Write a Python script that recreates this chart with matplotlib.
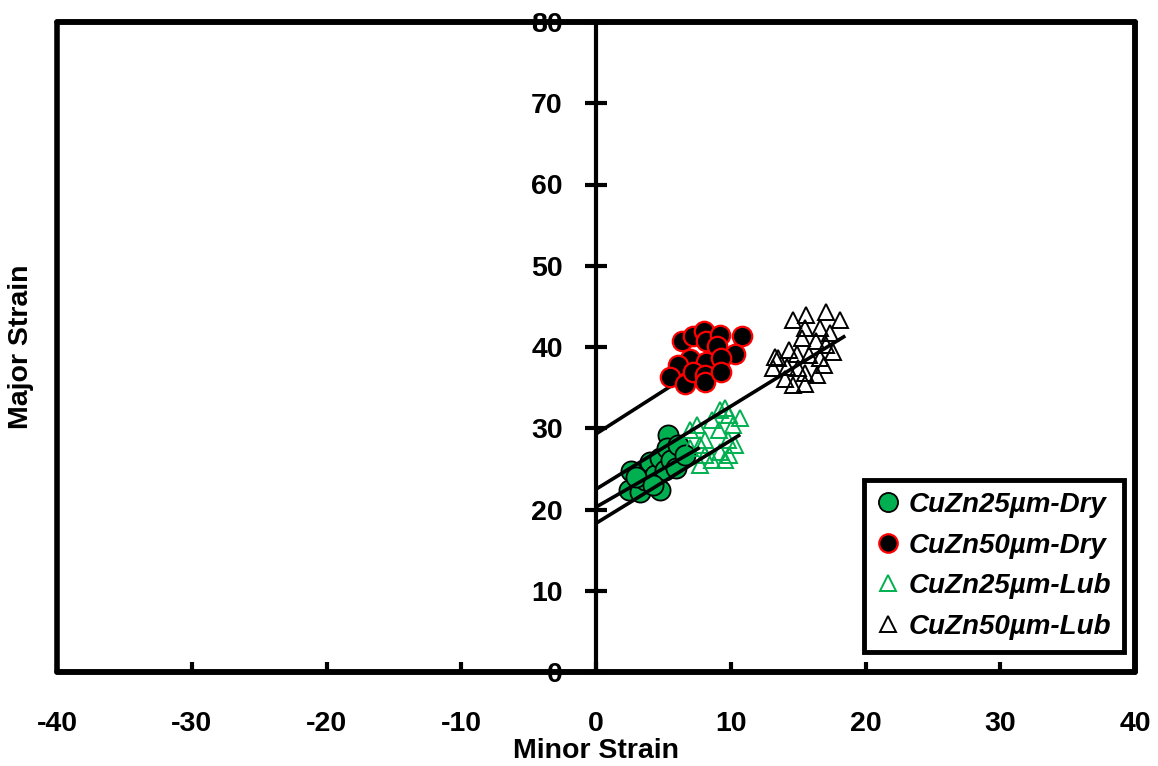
import matplotlib
matplotlib.use("Agg")
import matplotlib.pyplot as plt
import numpy as np
from matplotlib.patches import Rectangle

plt.rcParams['font.family'] = ['Liberation Sans', 'DejaVu Sans']
plt.rcParams['font.weight'] = 'bold'
plt.rcParams['axes.unicode_minus'] = False

# ---- data ----
dry25_x = [2.45, 2.6, 3.3, 3.6, 4.0, 4.4, 4.75, 5.1, 5.35, 5.3, 5.6, 6.1, 4.75, 5.9, 6.6, 3.0, 4.2]
dry25_y = [22.4, 24.7, 22.2, 23.6, 25.8, 24.2, 26.3, 24.9, 29.2, 27.6, 26.1, 27.9, 22.4, 25.1, 26.7, 24.0, 23.0]

dry50_x = [6.36, 7.2, 8.0, 8.2, 9.2, 9.0, 10.8, 10.3, 7.0, 6.1, 8.2, 9.3, 5.5, 6.6, 7.2, 8.1, 8.1, 9.3]
dry50_y = [40.7, 41.4, 42.0, 40.7, 41.5, 40.1, 41.3, 39.1, 38.5, 37.8, 38.2, 38.6, 36.3, 35.4, 36.9, 36.6, 35.7, 36.9]

lub25_x = [7.0, 7.5, 8.1, 8.6, 9.2, 9.6, 9.9, 10.2, 9.8, 9.2, 8.6, 7.7, 8.1, 9.6, 10.3, 9.1, 7.7, 7.0, 10.7, 9.9]
lub25_y = [29.8, 30.4, 28.6, 31.0, 32.2, 32.5, 31.6, 30.4, 28.6, 27.1, 26.1, 25.5, 26.7, 26.1, 27.9, 29.8, 27.9, 27.6, 31.3, 26.7]

lub50_x = [14.65, 15.6, 17.05, 18.1, 16.6, 17.4, 15.5, 15.3, 16.3, 17.1, 17.6, 14.3, 14.9, 15.8, 16.6,
           16.9, 13.5, 14.2, 15.0, 15.5, 16.4, 14.0, 14.65, 15.5, 13.3, 13.1]
lub50_y = [43.3, 43.9, 44.3, 43.3, 42.3, 41.7, 42.3, 41.1, 40.7, 40.2, 39.4, 39.6, 39.2, 39.0, 38.6,
           37.8, 38.6, 37.6, 37.4, 36.8, 36.6, 36.1, 35.3, 35.5, 38.8, 37.4]

# trendlines (intercept, slope, x end)
trend_names = ['CuZn25µm-Dry', 'CuZn50µm-Dry', 'CuZn25µm-Lub', 'CuZn50µm-Lub']
trend_intercepts = [20.3, 29.3, 18.3, 22.5]
trend_slopes = [0.95, 1.06, 1.02, 1.02]
trend_xend = [7.7, 10.8, 10.7, 18.5]

x_ticks = [-40, -30, -20, -10, 0, 10, 20, 30, 40]
y_ticks = [0, 10, 20, 30, 40, 50, 60, 70, 80]

GREEN = '#00B050'

fig = plt.figure(figsize=(11.58, 7.66), dpi=100)
ax = fig.add_axes([57/1158, 94/766, 1078/1158, 650/766])
ax.set_xlim(-40, 40)
ax.set_ylim(0, 80)

# scatter series
ax.plot(dry25_x, dry25_y, 'o', ms=14.5, mfc=GREEN, mec='black', mew=1.3, zorder=3, label=trend_names[0])
ax.plot(dry50_x, dry50_y, 'o', ms=14, mfc='black', mec='#FF0000', mew=1.6, zorder=5, label=trend_names[1])
ax.plot(lub25_x, lub25_y, '^', ms=11.5, mfc='none', mec=GREEN, mew=1.4, zorder=3, label=trend_names[2])
ax.plot(lub50_x, lub50_y, '^', ms=11.5, mfc='none', mec='black', mew=1.4, zorder=3, label=trend_names[3])

# trendlines
for i in range(4):
    xs = np.array([0, trend_xend[i]])
    ys = trend_intercepts[i] + trend_slopes[i] * xs
    ax.plot(xs, ys, '-', color='black', lw=2.6, zorder=4, solid_capstyle='butt')

# spines / frame
ax.spines['left'].set_position(('data', 0))
ax.spines['left'].set_linewidth(3)
for s in ['top', 'right', 'bottom']:
    ax.spines[s].set_linewidth(4)
    ax.spines[s].set_capstyle('round')
frame = Rectangle((0, 0), 1, 1, transform=ax.transAxes, fill=False, lw=4,
                  edgecolor='black', clip_on=False, zorder=6, joinstyle='round')
ax.add_patch(frame)

ax.set_xticks(x_ticks)
ax.set_yticks(y_ticks)
ax.tick_params(axis='x', direction='in', length=7, width=3, pad=28, labelsize=20.5)
ax.tick_params(axis='y', direction='inout', length=16, width=3, pad=16, labelsize=20.5)
for lab in ax.get_xticklabels() + ax.get_yticklabels():
    lab.set_fontweight('bold')

ax.set_xlabel('Minor Strain', fontsize=20.5, fontweight='bold')
ax.xaxis.set_label_coords(0.5, -0.102)
ax.set_ylabel('Major Strain', fontsize=20.5, fontweight='bold')
ax.yaxis.set_label_coords(-0.0213, 0.5)

leg = ax.legend(loc='lower right', bbox_to_anchor=(1067/1078, 20/650), borderaxespad=0,
                frameon=True, fancybox=False, edgecolor='black', framealpha=1,
                prop={'weight': 'bold', 'style': 'italic', 'size': 20},
                handlelength=0.8, handletextpad=0.35, labelspacing=0.52, borderpad=0.45,
                markerscale=0.95)
leg.get_frame().set_linewidth(3.5)
leg.set_zorder(10)

fig.savefig('out.png', dpi=100)
